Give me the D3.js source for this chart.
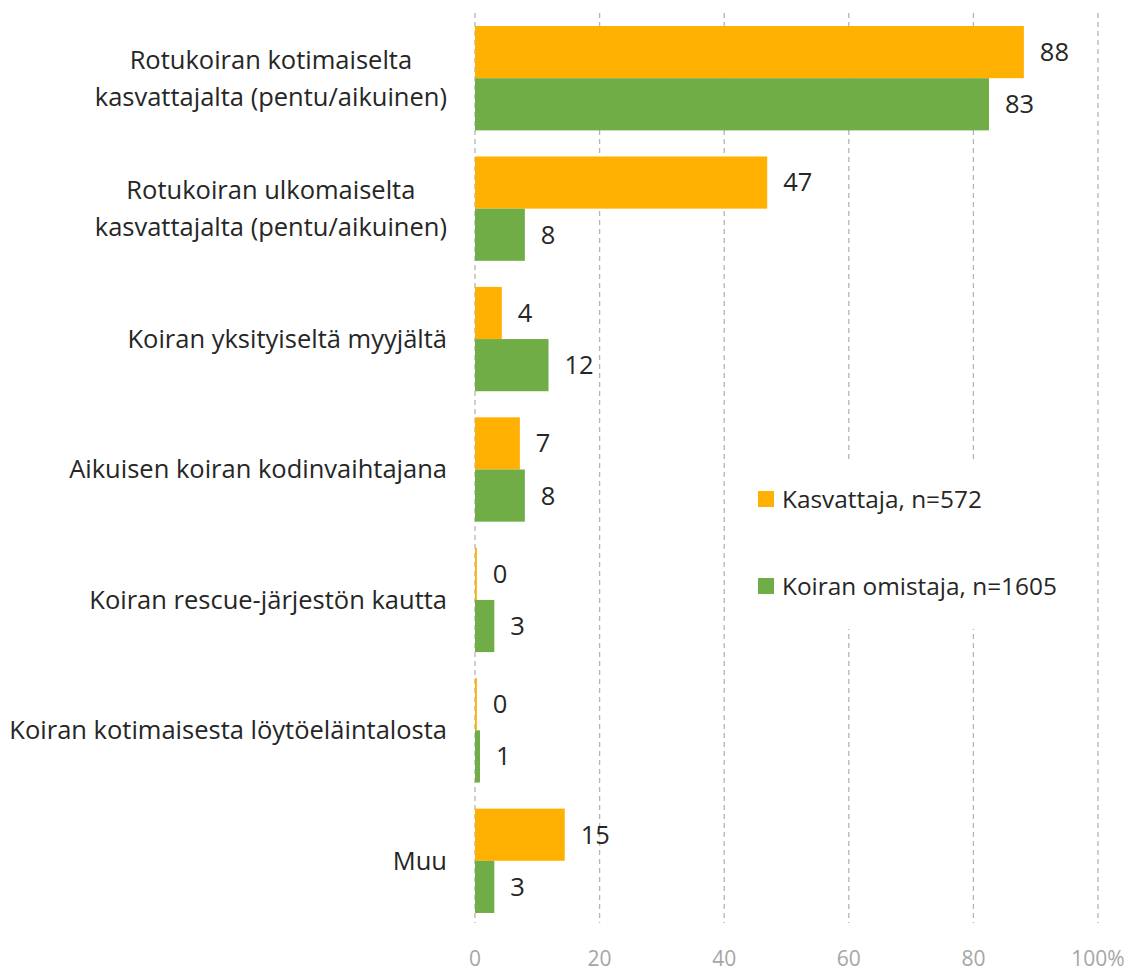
<!DOCTYPE html>
<html>
<head>
<meta charset="utf-8">
<script src="https://cdn.jsdelivr.net/npm/d3@7"></script>
<style>
  body { margin: 0; background: #fff; }
  svg { font-family: "Open Sans", Lato, sans-serif; }
</style>
</head>
<body>
<svg id="chart"></svg>
<script>
const categories = [
  "Rotukoiran kotimaiselta\nkasvattajalta (pentu/aikuinen)",
  "Rotukoiran ulkomaiselta\nkasvattajalta (pentu/aikuinen)",
  "Koiran yksityiseltä myyjältä",
  "Aikuisen koiran kodinvaihtajana",
  "Koiran rescue-järjestön kautta",
  "Koiran kotimaisesta löytöeläintalosta",
  "Muu"
];
const kasvattaja = [88.1, 46.9, 4.3, 7.2, 0.3, 0.3, 14.4];
const omistaja = [82.5, 8.0, 11.8, 8.0, 3.1, 0.8, 3.1];
const kasvattajaLabels = [88, 47, 4, 7, 0, 0, 15];
const omistajaLabels = [83, 8, 12, 8, 3, 1, 3];
const seriesNames = ["Kasvattaja, n=572", "Koiran omistaja, n=1605"];
const tickValues = [0, 20, 40, 60, 80, 100];

const colors = ["#ffb000", "#70ad47"];

const w = 1139;
const h = 974;

const svg = d3.select("#chart").attr("width", w).attr("height", h);

const x = d3.scaleLinear().domain([0, 100]).range([475, 1098]);
const y = d3.scaleBand()
  .domain(categories)
  .range([13, 926])
  .paddingInner(0.2)
  .paddingOuter(0.1);
const inner = d3.scaleBand().domain([0, 1]).range([0, y.bandwidth()]);

// gridlines (dashed, incl. zero line)
svg.append("g")
  .selectAll("line")
  .data(tickValues)
  .enter()
  .append("line")
  .attr("x1", d => x(d))
  .attr("x2", d => x(d))
  .attr("y1", 13)
  .attr("y2", 923)
  .attr("stroke", "#b4b4b4")
  .attr("stroke-width", 1.3)
  .attr("stroke-dasharray", "5,4");

// tick labels
svg.append("g")
  .selectAll("text")
  .data(tickValues)
  .enter()
  .append("text")
  .attr("x", d => x(d))
  .attr("y", 966)
  .attr("text-anchor", "middle")
  .attr("font-size", 21)
  .attr("fill", "#a6a6a6")
  .text(d => d === 100 ? "100%" : d);

// bars
const rows = categories.map((c, i) => ({
  cat: c,
  vals: [kasvattaja[i], omistaja[i]],
  labels: [kasvattajaLabels[i], omistajaLabels[i]]
}));

const groups = svg.append("g")
  .selectAll("g")
  .data(rows)
  .enter()
  .append("g")
  .attr("transform", d => "translate(0," + y(d.cat) + ")");

groups.selectAll("rect")
  .data(d => d.vals.map((v, s) => ({ v, s })))
  .enter()
  .append("rect")
  .attr("x", x(0))
  .attr("y", d => inner(d.s))
  .attr("width", d => x(d.v) - x(0))
  .attr("height", inner.bandwidth())
  .attr("fill", d => colors[d.s]);

groups.selectAll("text.val")
  .data(d => d.vals.map((v, s) => ({ v, s, label: d.labels[s] })))
  .enter()
  .append("text")
  .attr("class", "val")
  .attr("x", d => x(d.v) + 16)
  .attr("y", d => inner(d.s) + inner.bandwidth() / 2)
  .attr("dy", "0.35em")
  .attr("font-size", 25.5)
  .attr("fill", "#262626")
  .text(d => d.label);

// category labels: lines centered on each other, longest right-aligned
const labelRight = 447;
const lineH = 37;
categories.forEach(c => {
  const lines = c.split("\n");
  const g = svg.append("g");
  const texts = lines.map((ln, k) => g.append("text")
    .attr("y", y(c) + y.bandwidth() / 2 + (k - (lines.length - 1) / 2) * lineH)
    .attr("dy", "0.35em")
    .attr("font-size", 25.5)
    .attr("fill", "#262626")
    .attr("text-anchor", "middle")
    .text(ln));
  const maxW = d3.max(texts, t => t.node().getComputedTextLength());
  texts.forEach(t => t.attr("x", labelRight - maxW / 2));
});

// legend
const legend = svg.append("g");
legend.append("rect")
  .attr("x", 745)
  .attr("y", 463)
  .attr("width", 325)
  .attr("height", 166)
  .attr("fill", "#fff");
seriesNames.forEach((name, s) => {
  const ly = 499 + s * 87;
  legend.append("rect")
    .attr("x", 758)
    .attr("y", ly - 8)
    .attr("width", 16)
    .attr("height", 16)
    .attr("fill", colors[s]);
  legend.append("text")
    .attr("x", 782)
    .attr("y", ly)
    .attr("dy", "0.35em")
    .attr("font-size", 24.4)
    .attr("fill", "#262626")
    .text(name);
});
</script>
</body>
</html>
